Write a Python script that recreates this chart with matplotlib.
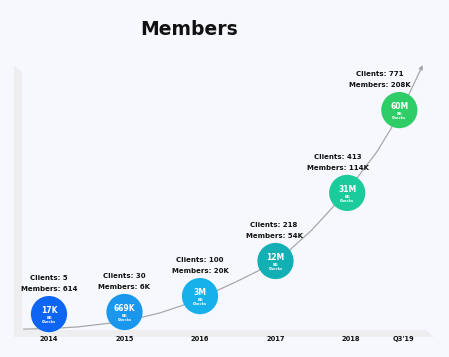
import numpy as np
import matplotlib.pyplot as plt
from matplotlib.patches import Polygon

# ------------------------------------------------
# DATA
# ------------------------------------------------

periods = ["2014", "2015", "2016", "2017", "2018", "Q3'19"]
period_pos = [0, 1, 2, 3, 4, 4.69]
bubble_pos = [0, 1, 2, 3, 3.95, 4.64]
bg_checks = ["17K", "669K", "3M", "12M", "31M", "60M"]
clients = [5, 30, 100, 218, 413, 771]
members = ["614", "6K", "20K", "54K", "114K", "208K"]

# visual growth level of each bubble
levels = [5.3, 6.0, 11.3, 23.0, 45.7, 73.3]

# trend curve drawn behind the bubbles
trend_x = [-0.34, 0.01, 0.37, 0.81, 1.19, 1.47, 1.78, 2.0, 2.24, 2.53, 2.77,
           2.98, 3.19, 3.48, 3.75, 3.93, 4.08, 4.34, 4.52, 4.72, 4.95]
trend_y = [0.3, 0.5, 1.0, 2.3, 4.0, 5.7, 8.3, 10.7, 13.3, 16.7, 19.7,
           23.0, 26.7, 33.3, 40.7, 46.0, 50.7, 59.3, 66.7, 76.0, 88.3]

colors = ["#0E65F4", "#1A97EC", "#16B0EA", "#12B0B4", "#1CCB9B", "#2FCD68"]

# label offsets (points) relative to bubble centre
label_dx = [0, 0, 0, -1, -7, -14]

# ------------------------------------------------
# PLOT
# ------------------------------------------------

bg = "#F7F8FD"
fig = plt.figure(figsize=(4.49, 3.57), dpi=100)
fig.patch.set_facecolor(bg)
ax = fig.add_axes([0, 0, 1, 1])
ax.set_facecolor(bg)
ax.set_xlim(-0.649, 5.298)
ax.set_ylim(-9, 110)
ax.axis("off")

# light gray frame (left + bottom)
ax.add_patch(Polygon([[-0.464, 0.0], [-0.464, 88.3], [-0.36, 86.0], [-0.36, 0.0]],
                     closed=True, color="#EEEEF1", lw=0, zorder=1))
ax.add_patch(Polygon([[-0.464, 0.0], [5.0, 0.0], [5.1, -2.3], [-0.464, -2.3]],
                     closed=True, color="#EEEEF1", lw=0, zorder=1))

# trend line with arrow head
ax.plot(trend_x[:-1], trend_y[:-1], color="#A8A8A8", lw=0.9, zorder=2,
        solid_capstyle="round", solid_joinstyle="round")
ax.annotate("", xy=(trend_x[-1], trend_y[-1]), xytext=(trend_x[-2], trend_y[-2]),
            arrowprops=dict(arrowstyle="-|>", color="#A8A8A8", lw=0.9,
                            mutation_scale=6, shrinkA=0, shrinkB=0), zorder=2)

# bubbles
ax.scatter(bubble_pos, levels, s=680, c=colors, edgecolors="none", zorder=3)

for i, x in enumerate(bubble_pos):
    y = levels[i]
    ax.annotate(bg_checks[i], (x, y), xytext=(0, 2.5), textcoords="offset points",
                ha="center", va="center", color="white", fontsize=5.5,
                fontweight="bold", zorder=4)
    ax.annotate("BG\nChecks", (x, y), xytext=(0, -4.5), textcoords="offset points",
                ha="center", va="center", color="white", fontsize=2.6,
                fontweight="bold", linespacing=1.0, zorder=4)
    ax.annotate(f"Clients: {clients[i]}", (x, y), xytext=(label_dx[i], 26),
                textcoords="offset points", ha="center", va="center",
                fontsize=5, fontweight="bold", color="#111111")
    ax.annotate(f"Members: {members[i]}", (x, y), xytext=(label_dx[i], 18),
                textcoords="offset points", ha="center", va="center",
                fontsize=5, fontweight="bold", color="#111111")

# period labels under the axis
for x, name in zip(period_pos, periods):
    ax.text(x, -2.9, name, ha="center", va="center",
            fontsize=4.8, fontweight="bold", color="#111111")

fig.text(0.421, 0.916, "Members", ha="center", va="center",
         fontsize=13.5, fontweight="bold", color="#111111")

plt.savefig("out.png", dpi=100, facecolor=bg)
plt.close()
